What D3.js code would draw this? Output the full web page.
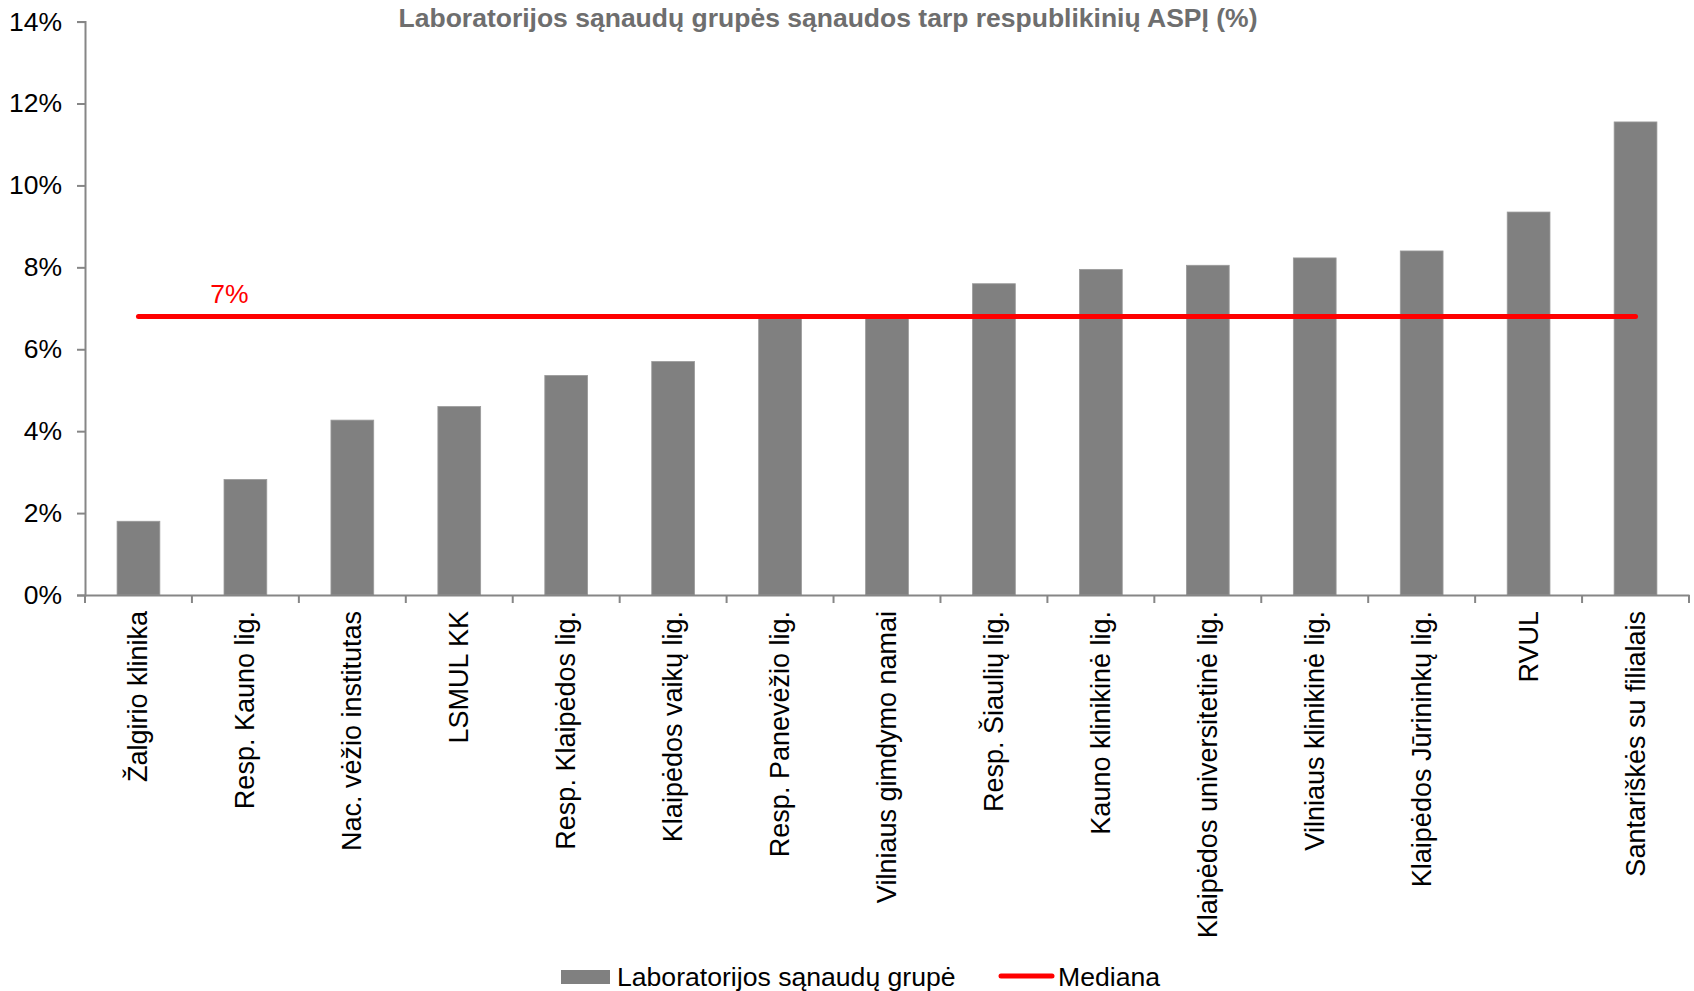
<!DOCTYPE html>
<html><head><meta charset="utf-8">
<script src="https://cdn.jsdelivr.net/npm/d3@7"></script>
<style>body{margin:0;background:#fff}svg{display:block}</style>
</head><body>
<script>
const categories = ["Žalgirio klinika","Resp. Kauno lig.","Nac. vėžio institutas","LSMUL KK","Resp. Klaipėdos lig.","Klaipėdos vaikų lig.","Resp. Panevėžio lig.","Vilniaus gimdymo namai","Resp. Šiaulių lig.","Kauno klinikinė lig.","Klaipėdos universitetinė lig.","Vilniaus klinikinė lig.","Klaipėdos Jūrininkų lig.","RVUL","Santariškės su filialais"];
const values = [1.8, 2.82, 4.27, 4.6, 5.36, 5.7, 6.78, 6.8, 7.6, 7.95, 8.05, 8.23, 8.4, 9.35, 11.55];
const median = 6.8;
const medianLabel = "7%";
const yTicks = [0,2,4,6,8,10,12,14];
const title = "Laboratorijos sąnaudų grupės sąnaudos tarp respublikinių ASPĮ (%)";
const legendLabels = ["Laboratorijos sąnaudų grupė","Mediana"];

(function(){
const W=1694,H=991;
const svg=d3.select("body").append("svg").attr("width",W).attr("height",H);
const font="Liberation Sans, Arial, sans-serif";
const pLeft=85,pRight=1689,pTop=21.6,pBottom=595;
const xb=d3.scaleBand().domain(categories).range([pLeft,pRight]);
const y=d3.scaleLinear().domain([0,14]).range([pBottom,pTop]);

// bars
svg.append("g").selectAll("rect").data(values).join("rect")
  .attr("x",(d,i)=>xb(categories[i])+xb.bandwidth()*0.3)
  .attr("width",xb.bandwidth()*0.4)
  .attr("y",d=>y(d)).attr("height",d=>y(0)-y(d))
  .attr("fill","#808080").attr("stroke","#9a9a9a").attr("stroke-width",0.8);

// y axis
const ya=svg.append("g").attr("transform",`translate(${pLeft},0)`)
  .call(d3.axisLeft(y).tickValues(yTicks).tickFormat(d=>d+"%").tickSize(8).tickPadding(15));
ya.select(".domain").attr("stroke","#868686").attr("stroke-width",2);
ya.selectAll(".tick line").attr("stroke","#868686").attr("stroke-width",2);
ya.selectAll("text").attr("font-family",font).attr("font-size",26.5).attr("fill","#000");

// x axis
const xa=svg.append("g").attr("transform",`translate(0,${pBottom})`)
  .call(d3.axisBottom(xb).tickSize(0).tickFormat(""));
xa.select(".domain").attr("stroke","#868686").attr("stroke-width",2);
xa.selectAll(".tick").remove();
xa.selectAll(".sep").data(d3.range(categories.length+1)).join("line")
  .attr("x1",i=>pLeft+i*xb.step()).attr("x2",i=>pLeft+i*xb.step())
  .attr("y1",0).attr("y2",8).attr("stroke","#868686").attr("stroke-width",2);
svg.append("g").selectAll("text").data(categories).join("text")
  .attr("transform",d=>`translate(${xb(d)+xb.bandwidth()/2},${pBottom+16}) rotate(-90)`)
  .attr("text-anchor","end").attr("dominant-baseline","central")
  .attr("font-family",font).attr("font-size",27).attr("fill","#000").text(d=>d);

// median line
const mx1=xb(categories[0])+xb.bandwidth()/2, mx2=xb(categories[categories.length-1])+xb.bandwidth()/2;
svg.append("line").attr("x1",mx1).attr("x2",mx2).attr("y1",y(median)).attr("y2",y(median))
  .attr("stroke","#ff0000").attr("stroke-width",5).attr("stroke-linecap","round");
svg.append("text").attr("x",xb(categories[1])+xb.bandwidth()*0.35).attr("y",y(median)-13)
  .attr("text-anchor","middle").attr("font-family",font).attr("font-size",26.5).attr("fill","#ff0000").text(medianLabel);

// title
svg.append("text").attr("x",828).attr("y",27).attr("text-anchor","middle")
  .attr("font-family",font).attr("font-weight","bold").attr("font-size",26.5).attr("fill","#6e6e6e").text(title);

// legend
const lg=svg.append("g");
lg.append("rect").attr("x",561).attr("y",970).attr("width",49).attr("height",14).attr("fill","#808080");
lg.append("text").attr("x",617).attr("y",986).attr("font-family",font).attr("font-size",26.6).text(legendLabels[0]);
lg.append("line").attr("x1",1001).attr("x2",1052).attr("y1",976).attr("y2",976).attr("stroke","#ff0000").attr("stroke-width",5).attr("stroke-linecap","round");
lg.append("text").attr("x",1058).attr("y",986).attr("font-family",font).attr("font-size",26.6).text(legendLabels[1]);
})();
</script>
</body></html>
